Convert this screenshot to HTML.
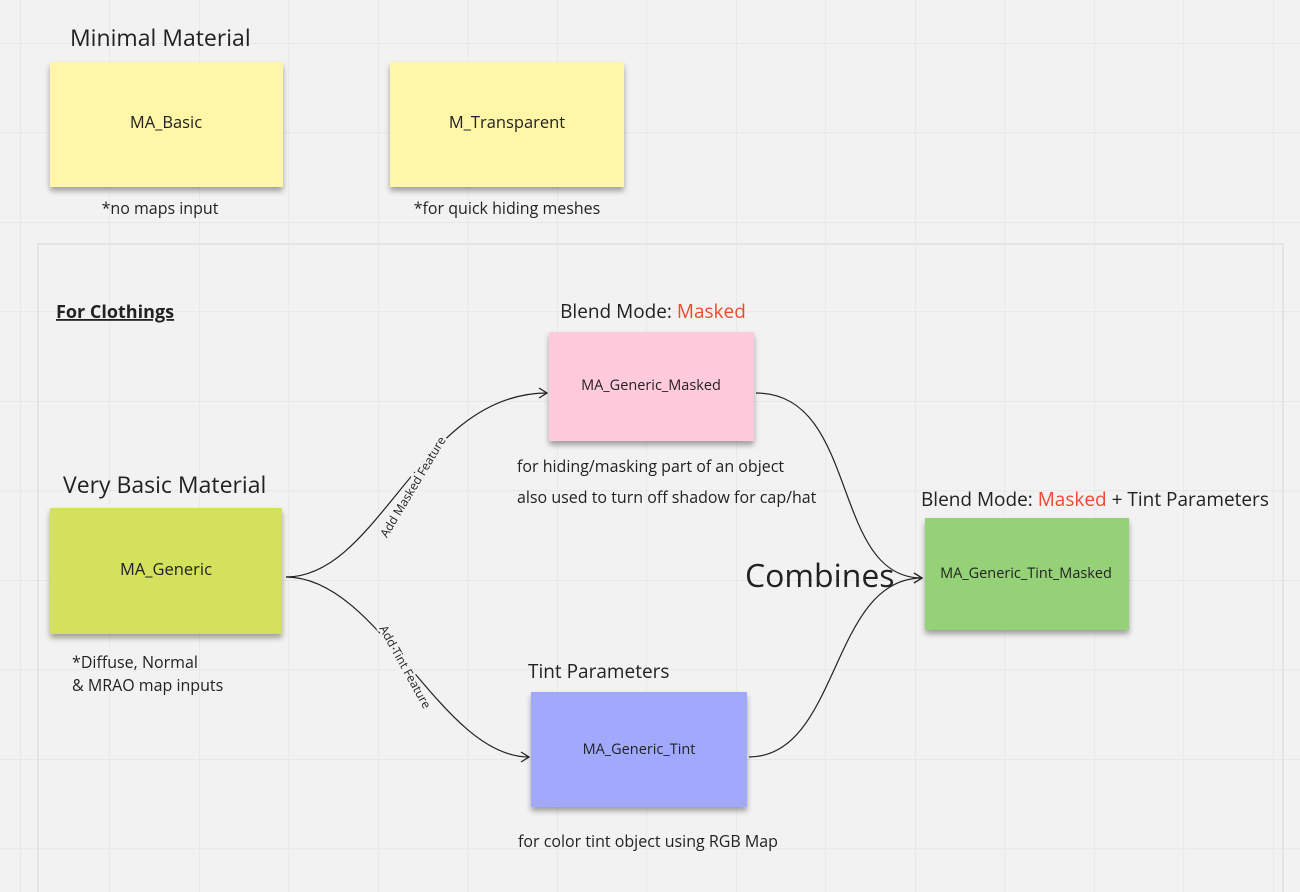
<!DOCTYPE html>
<html><head><meta charset="utf-8"><style>
html,body{margin:0;padding:0;background:#f2f2f2;width:1300px;height:892px;overflow:hidden;}
svg{display:block;font-family:"Open Sans","Liberation Sans",sans-serif;}
</style></head><body>
<svg width="1300" height="892" viewBox="0 0 1300 892" xmlns="http://www.w3.org/2000/svg">
<defs>
<pattern id="g" x="20" y="43" width="89.5" height="89.5" patternUnits="userSpaceOnUse">
<path d="M0 0H89.5M0 0V89.5" stroke="#e2e2e2" stroke-width="1.2" fill="none"/>
</pattern>
<filter id="sh" x="-10%" y="-10%" width="120%" height="140%">
<feGaussianBlur in="SourceAlpha" stdDeviation="3"/><feOffset dy="4"/>
<feComponentTransfer><feFuncA type="linear" slope="0.35"/></feComponentTransfer>
<feMerge><feMergeNode/><feMergeNode in="SourceGraphic"/></feMerge></filter>
<marker id="ar" markerWidth="12" markerHeight="12" refX="10" refY="6" orient="auto" markerUnits="userSpaceOnUse">
<path d="M2 1L10 6L2 11" fill="none" stroke="#222" stroke-width="1.3"/></marker>
</defs>
<rect width="1300" height="892" fill="#f2f2f2"/>
<rect width="1300" height="892" fill="url(#g)"/>
<rect x="38" y="244" width="1245" height="660" fill="none" stroke="#dcdcdc" stroke-width="1.2"/>

<g filter="url(#sh)">
<rect x="50" y="62" width="233" height="125" fill="#fff6a8"/>
<rect x="390" y="62" width="234" height="125" fill="#fff6a8"/>
<rect x="549" y="332" width="205" height="109" fill="#ffcadc"/>
<rect x="50" y="508" width="232" height="126" fill="#d3e15c"/>
<rect x="531" y="692" width="216" height="115" fill="#a1a9fd"/>
<rect x="925" y="518" width="204" height="112" fill="#95d277"/>
</g>

<g fill="none" stroke="#222" stroke-width="1.2">
<path d="M286 577 C380 577 420 393 547 393" marker-end="url(#ar)"/>
<path d="M286 577 C380 577 440 757 529 757" marker-end="url(#ar)"/>
<path d="M756 393 C860 393 830 578 922 578" marker-end="url(#ar)"/>
<path d="M749 757 C840 757 830 578 922 578" marker-end="url(#ar)"/>
</g>

<g fill="#222" font-size="16.5" text-anchor="middle">
<text x="166" y="128">MA_Basic</text>
<text x="507" y="128">M_Transparent</text>
<text x="651" y="390" font-size="14.5">MA_Generic_Masked</text>
<text x="166" y="575">MA_Generic</text>
<text x="639" y="754" font-size="14.5">MA_Generic_Tint</text>
<text x="1026" y="578" font-size="14.5">MA_Generic_Tint_Masked</text>
</g>

<g fill="#222">
<text x="70" y="46" font-size="23">Minimal Material</text>
<text x="160" y="214" font-size="16" text-anchor="middle">*no maps input</text>
<text x="507" y="214" font-size="16" text-anchor="middle">*for quick hiding meshes</text>
<text x="56" y="318" font-size="18" font-weight="bold" text-decoration="underline">For Clothings</text>
<text x="653" y="318" font-size="19" text-anchor="middle">Blend Mode: <tspan fill="#ef4a2e">Masked</tspan></text>
<text x="517" y="472" font-size="16">for hiding/masking part of an object</text>
<text x="517" y="503" font-size="16">also used to turn off shadow for cap/hat</text>
<text x="63" y="493" font-size="23">Very Basic Material</text>
<text x="72" y="668" font-size="16">*Diffuse, Normal</text>
<text x="72" y="691" font-size="16">&amp; MRAO map inputs</text>
<text x="528" y="678" font-size="19">Tint Parameters</text>
<text x="518" y="847" font-size="16">for color tint object using RGB Map</text>
<text x="921" y="506" font-size="19">Blend Mode: <tspan fill="#ef4a2e">Masked</tspan> + Tint Parameters</text>
<text x="745" y="587" font-size="32">Combines</text>
<g font-size="12" text-anchor="middle" stroke="#f2f2f2" stroke-width="5" paint-order="stroke" stroke-linejoin="round">
<text x="0" y="4" transform="translate(413,487) rotate(-59)">Add Masked Feature</text>
<text x="0" y="4" transform="translate(405,667) rotate(61)">Add Tint Feature</text>
</g>
</g>
</svg>
</body></html>
